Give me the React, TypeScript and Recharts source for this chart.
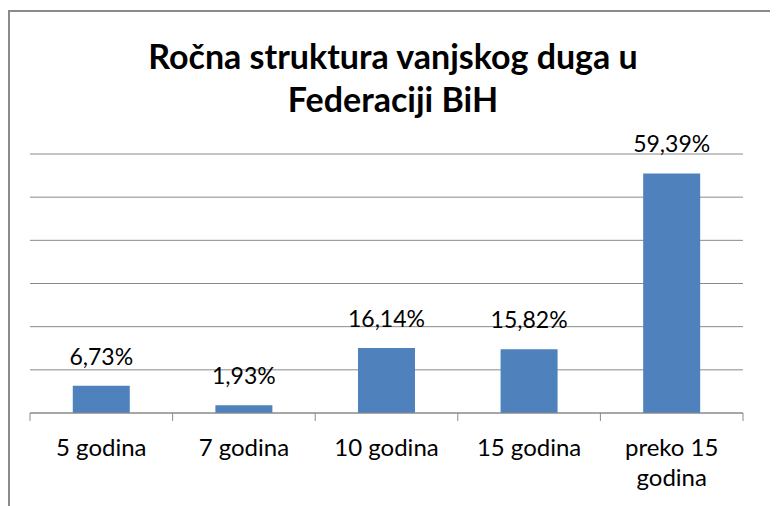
import { BarChart, Bar, XAxis, YAxis, CartesianGrid, LabelList } from "recharts";

const categories = ["5 godina", "7 godina", "10 godina", "15 godina", "preko 15 godina"];
const shares = [6.73, 1.93, 16.14, 15.82, 59.39];
// wrapped tick text, same order as categories
const tickLines = [["5 godina"], ["7 godina"], ["10 godina"], ["15 godina"], ["preko 15", "godina"]];
const yTicks = [0, 10.7, 21.4, 32.1, 42.8, 53.5, 64.2];
const titleLines = ["Ročna struktura vanjskog duga u", "Federaciji BiH"];

const data = categories.map((name, i) => ({ name, share: shares[i] }));

const FONT = "Lato, 'Open Sans', sans-serif";
const GRID = "#8a8a8a";
const PLOT_W = 713;

const CategoryTick = (props: any) => {
  const { x, y, index, visibleTicksCount } = props;
  const count = visibleTicksCount || categories.length;
  const band = (props.width || PLOT_W) / count;
  const lines = tickLines[index] || [String(props.payload?.value ?? "")];
  const edges = [x - band / 2];
  if (index === count - 1) edges.push(x + band / 2);
  return (
    <g>
      {edges.map((ex, i) => (
        <line key={i} x1={ex} x2={ex} y1={y} y2={y + 8} stroke={GRID} strokeWidth={1} />
      ))}
      <text x={x} y={y} textAnchor="middle" fontFamily={FONT} fontSize={24} fill="#000">
        {lines.map((line, i) => (
          <tspan key={i} x={x} dy={i === 0 ? 43 : 30}>
            {line}
          </tspan>
        ))}
      </text>
    </g>
  );
};

const fmt = (v: any) => Number(v).toFixed(2).replace(".", ",") + "%";

export default function App() {
  return (
    <div style={{ position: "relative", width: 770, height: 498, overflow: "hidden" }}>
      <div
        style={{
          position: "absolute",
          left: 0,
          top: 2,
          width: 800,
          height: 520,
          borderLeft: `2px solid ${GRID}`,
          borderTop: `2px solid ${GRID}`,
        }}
      />
      <div style={{ position: "absolute", left: 0, top: 2 }}>
        <BarChart
          width={770}
          height={496}
          data={data}
          margin={{ top: 144, right: 35, left: 22, bottom: 0 }}
          barCategoryGap="30%"
        >
          <CartesianGrid vertical={false} stroke={GRID} strokeWidth={1} />
          <XAxis
            dataKey="name"
            height={93}
            interval={0}
            axisLine={{ stroke: GRID, strokeWidth: 1 }}
            tickLine={false}
            tickSize={0}
            tickMargin={0}
            tick={<CategoryTick />}
          />
          <YAxis hide domain={[0, 64.2]} ticks={yTicks} />
          <Bar dataKey="share" fill="#4F81BD" isAnimationActive={false}>
            <LabelList
              dataKey="share"
              position="top"
              offset={21}
              formatter={fmt}
              fill="#000"
              fontSize={23}
              fontFamily={FONT}
            />
          </Bar>
        </BarChart>
      </div>
      <svg
        width={770}
        height={496}
        style={{ position: "absolute", left: 0, top: 2, pointerEvents: "none" }}
      >
        {titleLines.map((t, i) => (
          <text
            key={i}
            x={385}
            y={59 + i * 43}
            textAnchor="middle"
            fontFamily={FONT}
            fontWeight="bold"
            fontSize={34}
            fill="#000"
          >
            {t}
          </text>
        ))}
      </svg>
    </div>
  );
}
